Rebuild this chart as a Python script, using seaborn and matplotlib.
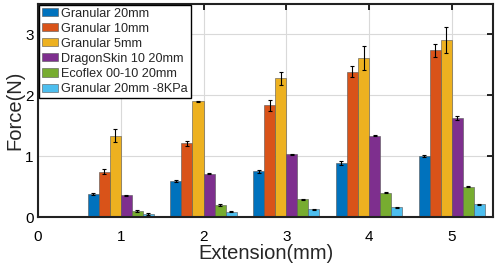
import matplotlib

matplotlib.use("Agg")

import matplotlib.pyplot as plt
import pandas as pd
import seaborn as sns

extensions = [1, 2, 3, 4, 5]
series_names = [
    "Granular 20mm",
    "Granular 10mm",
    "Granular 5mm",
    "DragonSkin 10 20mm",
    "Ecoflex 00-10 20mm",
    "Granular 20mm -8KPa",
]
granular_20 = [0.38, 0.59, 0.75, 0.89, 1.01]
granular_10 = [0.745, 1.21, 1.84, 2.39, 2.74]
granular_5 = [1.34, 1.90, 2.28, 2.61, 2.91]
dragonskin = [0.36, 0.71, 1.03, 1.34, 1.63]
ecoflex = [0.10, 0.20, 0.29, 0.40, 0.50]
granular_vac = [0.05, 0.09, 0.13, 0.16, 0.21]

err_granular_20 = [0.015, 0.02, 0.025, 0.03, 0.015]
err_granular_10 = [0.04, 0.04, 0.09, 0.085, 0.11]
err_granular_5 = [0.10, 0.01, 0.11, 0.20, 0.21]
err_dragonskin = [0.01, 0.01, 0.01, 0.01, 0.03]
err_ecoflex = [0.01, 0.01, 0.01, 0.01, 0.01]
err_granular_vac = [0.01, 0.01, 0.01, 0.01, 0.01]

colors = ["#0072BD", "#D95319", "#EDB120", "#7E2F8E", "#77AC30", "#4DBEEE"]

values = [granular_20, granular_10, granular_5, dragonskin, ecoflex, granular_vac]
errors = [err_granular_20, err_granular_10, err_granular_5, err_dragonskin, err_ecoflex, err_granular_vac]

rows = []
for name, vals in zip(series_names, values):
    for ext, v in zip(extensions, vals):
        rows.append({"extension": ext, "force": v, "series": name})
df = pd.DataFrame(rows)

sns.set_style("white")
plt.rcParams["font.family"] = ["Liberation Sans", "DejaVu Sans"]

fig = plt.figure(figsize=(4.98, 2.68), dpi=100)
ax = fig.add_axes([0.0763, 0.190, 0.914, 0.795])

sns.barplot(
    data=df,
    x="extension",
    y="force",
    hue="series",
    hue_order=series_names,
    palette=colors,
    native_scale=True,
    width=0.8,
    errorbar=None,
    edgecolor="#555555",
    linewidth=0.4,
    saturation=1,
    ax=ax,
    zorder=2,
)

for container, errs in zip(ax.containers, errors):
    xs = [bar.get_x() + bar.get_width() / 2 for bar in container]
    ys = [bar.get_height() for bar in container]
    ax.errorbar(xs, ys, yerr=errs, fmt="none", ecolor="black",
                elinewidth=0.8, capsize=1.5, capthick=0.8, zorder=3)

ax.set_xlim(0, 5.5)
ax.set_ylim(0, 3.5)
ax.set_xticks([0, 1, 2, 3, 4, 5])
ax.set_yticks([0, 1, 2, 3])
ax.grid(True, color="#d9d9d9", linewidth=0.8, zorder=0)
ax.set_axisbelow(True)
ax.tick_params(direction="in", top=True, right=True, length=4, width=1.2,
               labelsize=11, colors="black")
ax.tick_params(axis="x", pad=9)
ax.tick_params(axis="y", pad=3)
for spine in ax.spines.values():
    spine.set_linewidth(1.5)
    spine.set_color("#222222")
ax.set_xlabel("Extension(mm)", fontsize=14.5, labelpad=0)
ax.set_ylabel("Force(N)", fontsize=14.5, labelpad=1)

leg = ax.legend(loc="upper left", fontsize=9.1, frameon=True, fancybox=False,
                edgecolor="black", framealpha=1, borderaxespad=0.05,
                handlelength=1.25, handleheight=0.6, handletextpad=0.3,
                labelspacing=0.24, borderpad=0.25)
leg.get_frame().set_linewidth(1.0)

fig.savefig("out.png", dpi=100)
